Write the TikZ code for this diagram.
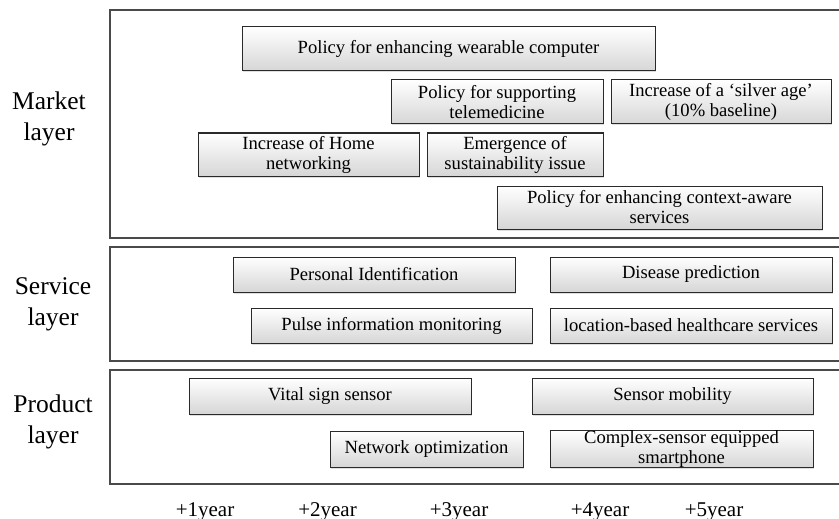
\documentclass[tikz,border=0pt]{standalone}
\usepackage{fontspec}
\setmainfont{Liberation Serif}
\usetikzlibrary{shadows}
\definecolor{framecol}{HTML}{4A4A4A}
\definecolor{boxline}{HTML}{2A2A2A}
\definecolor{boxbottom}{HTML}{D6D6D6}
\tikzset{
  frame/.style={draw=framecol, line width=1.3pt},
  ibox/.style={draw=boxline, line width=1pt, top color=white, bottom color=boxbottom,
    inner sep=0pt, align=center, font=\fontsize{18.6}{20}\selectfont,
    drop shadow={opacity=0.25, shadow xshift=1.2pt, shadow yshift=-1.5pt}},
  layerlbl/.style={align=center, inner sep=0pt, font=\fontsize{25.5}{31}\selectfont},
  yearlbl/.style={anchor=base, inner sep=0pt, font=\fontsize{21}{24}\selectfont}
}
\begin{document}
\begin{tikzpicture}[x=1pt,y=-1pt]
\useasboundingbox (0,0) rectangle (839,519);
% layer frames
\draw[frame] (839,10) -- (110,10) -- (110,238) -- (839,238);
\draw[frame] (839,247) -- (110,247) -- (110,361) -- (839,361);
\draw[frame] (839,370) -- (110,370) -- (110,484) -- (839,484);
% layer labels
\node[layerlbl] (lm) at (49,119) {Market\\layer};
\node[layerlbl] (ls) at (53,304) {Service\\layer};
\node[layerlbl] (lp) at (53,422) {Product\\layer};
% market layer
\node[ibox, minimum width=413pt, minimum height=44pt] (m1) at (448.5,49) {Policy for enhancing wearable computer};
\node[ibox, minimum width=212pt, minimum height=44pt] (m2) at (497,102) {Policy for supporting\\telemedicine};
\node[ibox, minimum width=220pt, minimum height=44pt] (m3) at (721,102) {Increase of a ‘silver age’\\(10\% baseline)};
\node[ibox, minimum width=221pt, minimum height=43pt] (m4) at (308.5,154.5) {Increase of Home\\networking};
\node[ibox, minimum width=176pt, minimum height=43pt] (m5) at (515,154.5) {Emergence of\\sustainability issue};
\node[ibox, minimum width=325pt, minimum height=43pt] (m6) at (659.5,207.5) {Policy for enhancing context-aware\\services};
% service layer
\node[ibox, minimum width=282pt, minimum height=35pt] (s1) at (374,274.5) {Personal Identification};
\node[ibox, minimum width=282pt, minimum height=35pt] (s2) at (691,274.5) {Disease prediction};
\node[ibox, minimum width=281pt, minimum height=35pt] (s3) at (391.5,325.5) {Pulse information monitoring};
\node[ibox, minimum width=282pt, minimum height=35pt] (s4) at (691,325.5) {location-based healthcare services};
% product layer
\node[ibox, minimum width=282pt, minimum height=36pt] (p1) at (330,396) {Vital sign sensor};
\node[ibox, minimum width=281pt, minimum height=36pt] (p2) at (672.5,396) {Sensor mobility};
\node[ibox, minimum width=193pt, minimum height=36pt] (p3) at (426.5,449) {Network optimization};
\node[ibox, minimum width=263pt, minimum height=34pt] (p4) at (681.5,449) {Complex-sensor equipped\\smartphone};
% years
\node[yearlbl] (y1) at (205,516) {+1year};
\node[yearlbl] (y2) at (327.5,516) {+2year};
\node[yearlbl] (y3) at (459,516) {+3year};
\node[yearlbl] (y4) at (600,516) {+4year};
\node[yearlbl] (y5) at (714,516) {+5year};
\end{tikzpicture}
\end{document}
